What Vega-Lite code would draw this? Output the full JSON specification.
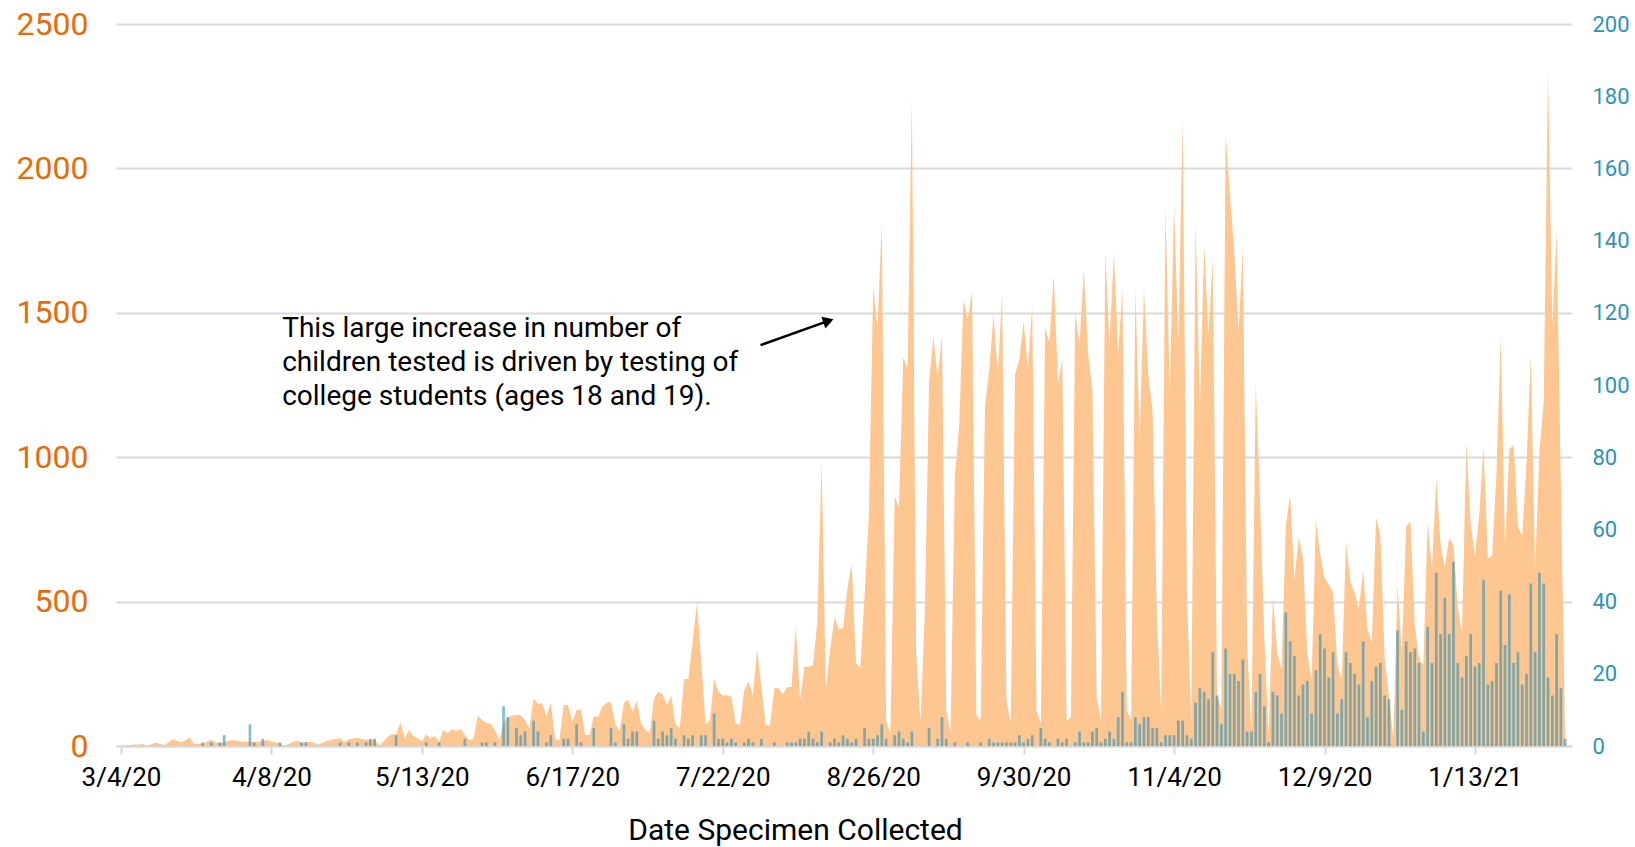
{
 "$schema": "https://vega.github.io/schema/vega-lite/v6.json",
 "width": 1456, "height": 722,
 "autosize": {"type": "none"},
 "padding": {"left": 116, "top": 24, "right": 63, "bottom": 101},
 "datasets": {"daily": [
{"date":"2020-03-04","tested":0,"positive":0},{"date":"2020-03-05","tested":2,"positive":0},{"date":"2020-03-06","tested":3,"positive":0},{"date":"2020-03-07","tested":5,"positive":0},{"date":"2020-03-08","tested":5,"positive":0},{"date":"2020-03-09","tested":7,"positive":0},{"date":"2020-03-10","tested":1,"positive":0},{"date":"2020-03-11","tested":5,"positive":0},{"date":"2020-03-12","tested":12,"positive":0},{"date":"2020-03-13","tested":8,"positive":0},{"date":"2020-03-14","tested":3,"positive":0},{"date":"2020-03-15","tested":12,"positive":0},{"date":"2020-03-16","tested":24,"positive":0},{"date":"2020-03-17","tested":18,"positive":0},{"date":"2020-03-18","tested":13,"positive":0},{"date":"2020-03-19","tested":20,"positive":0},{"date":"2020-03-20","tested":29,"positive":0},{"date":"2020-03-21","tested":7,"positive":0},{"date":"2020-03-22","tested":8,"positive":0},{"date":"2020-03-23","tested":9,"positive":1},{"date":"2020-03-24","tested":15,"positive":0},{"date":"2020-03-25","tested":22,"positive":1},{"date":"2020-03-26","tested":13,"positive":0},{"date":"2020-03-27","tested":10,"positive":1},{"date":"2020-03-28","tested":13,"positive":3},{"date":"2020-03-29","tested":17,"positive":0},{"date":"2020-03-30","tested":21,"positive":0},{"date":"2020-03-31","tested":18,"positive":0},
{"date":"2020-04-01","tested":16,"positive":0},{"date":"2020-04-02","tested":15,"positive":0},{"date":"2020-04-03","tested":15,"positive":6},{"date":"2020-04-04","tested":15,"positive":1},{"date":"2020-04-05","tested":15,"positive":0},{"date":"2020-04-06","tested":18,"positive":2},{"date":"2020-04-07","tested":22,"positive":0},{"date":"2020-04-08","tested":16,"positive":0},{"date":"2020-04-09","tested":12,"positive":0},{"date":"2020-04-10","tested":9,"positive":1},{"date":"2020-04-11","tested":0,"positive":0},{"date":"2020-04-12","tested":7,"positive":0},{"date":"2020-04-13","tested":14,"positive":0},{"date":"2020-04-14","tested":20,"positive":0},{"date":"2020-04-15","tested":12,"positive":1},{"date":"2020-04-16","tested":14,"positive":1},{"date":"2020-04-17","tested":16,"positive":0},{"date":"2020-04-18","tested":10,"positive":0},{"date":"2020-04-19","tested":5,"positive":0},{"date":"2020-04-20","tested":12,"positive":0},{"date":"2020-04-21","tested":18,"positive":0},{"date":"2020-04-22","tested":22,"positive":0},{"date":"2020-04-23","tested":24,"positive":0},{"date":"2020-04-24","tested":28,"positive":1},{"date":"2020-04-25","tested":12,"positive":0},{"date":"2020-04-26","tested":23,"positive":1},{"date":"2020-04-27","tested":26,"positive":0},{"date":"2020-04-28","tested":29,"positive":1},{"date":"2020-04-29","tested":24,"positive":0},{"date":"2020-04-30","tested":22,"positive":1},
{"date":"2020-05-01","tested":21,"positive":2},{"date":"2020-05-02","tested":23,"positive":2},{"date":"2020-05-03","tested":3,"positive":0},{"date":"2020-05-04","tested":15,"positive":0},{"date":"2020-05-05","tested":30,"positive":0},{"date":"2020-05-06","tested":42,"positive":0},{"date":"2020-05-07","tested":39,"positive":3},{"date":"2020-05-08","tested":82,"positive":0},{"date":"2020-05-09","tested":25,"positive":0},{"date":"2020-05-10","tested":55,"positive":0},{"date":"2020-05-11","tested":35,"positive":0},{"date":"2020-05-12","tested":27,"positive":0},{"date":"2020-05-13","tested":15,"positive":0},{"date":"2020-05-14","tested":40,"positive":1},{"date":"2020-05-15","tested":27,"positive":0},{"date":"2020-05-16","tested":35,"positive":0},{"date":"2020-05-17","tested":15,"positive":1},{"date":"2020-05-18","tested":55,"positive":0},{"date":"2020-05-19","tested":44,"positive":0},{"date":"2020-05-20","tested":58,"positive":0},{"date":"2020-05-21","tested":52,"positive":0},{"date":"2020-05-22","tested":58,"positive":0},{"date":"2020-05-23","tested":38,"positive":2},{"date":"2020-05-24","tested":21,"positive":0},{"date":"2020-05-25","tested":24,"positive":0},{"date":"2020-05-26","tested":105,"positive":0},{"date":"2020-05-27","tested":90,"positive":1},{"date":"2020-05-28","tested":80,"positive":1},{"date":"2020-05-29","tested":78,"positive":0},{"date":"2020-05-30","tested":55,"positive":1},{"date":"2020-05-31","tested":21,"positive":0},
{"date":"2020-06-01","tested":78,"positive":11},{"date":"2020-06-02","tested":100,"positive":8},{"date":"2020-06-03","tested":105,"positive":0},{"date":"2020-06-04","tested":107,"positive":5},{"date":"2020-06-05","tested":107,"positive":3},{"date":"2020-06-06","tested":90,"positive":4},{"date":"2020-06-07","tested":61,"positive":0},{"date":"2020-06-08","tested":165,"positive":7},{"date":"2020-06-09","tested":145,"positive":4},{"date":"2020-06-10","tested":148,"positive":0},{"date":"2020-06-11","tested":104,"positive":1},{"date":"2020-06-12","tested":151,"positive":3},{"date":"2020-06-13","tested":23,"positive":0},{"date":"2020-06-14","tested":21,"positive":0},{"date":"2020-06-15","tested":142,"positive":2},{"date":"2020-06-16","tested":142,"positive":2},{"date":"2020-06-17","tested":84,"positive":0},{"date":"2020-06-18","tested":125,"positive":6},{"date":"2020-06-19","tested":127,"positive":1},{"date":"2020-06-20","tested":38,"positive":0},{"date":"2020-06-21","tested":38,"positive":0},{"date":"2020-06-22","tested":104,"positive":5},{"date":"2020-06-23","tested":100,"positive":0},{"date":"2020-06-24","tested":136,"positive":0},{"date":"2020-06-25","tested":150,"positive":0},{"date":"2020-06-26","tested":152,"positive":5},{"date":"2020-06-27","tested":78,"positive":1},{"date":"2020-06-28","tested":50,"positive":0},{"date":"2020-06-29","tested":150,"positive":6},{"date":"2020-06-30","tested":161,"positive":2},
{"date":"2020-07-01","tested":119,"positive":4},{"date":"2020-07-02","tested":157,"positive":4},{"date":"2020-07-03","tested":78,"positive":0},{"date":"2020-07-04","tested":55,"positive":0},{"date":"2020-07-05","tested":44,"positive":0},{"date":"2020-07-06","tested":165,"positive":7},{"date":"2020-07-07","tested":188,"positive":2},{"date":"2020-07-08","tested":180,"positive":4},{"date":"2020-07-09","tested":142,"positive":3},{"date":"2020-07-10","tested":174,"positive":5},{"date":"2020-07-11","tested":76,"positive":2},{"date":"2020-07-12","tested":61,"positive":0},{"date":"2020-07-13","tested":232,"positive":3},{"date":"2020-07-14","tested":232,"positive":2},{"date":"2020-07-15","tested":364,"positive":3},{"date":"2020-07-16","tested":496,"positive":0},{"date":"2020-07-17","tested":290,"positive":3},{"date":"2020-07-18","tested":76,"positive":3},{"date":"2020-07-19","tested":88,"positive":0},{"date":"2020-07-20","tested":234,"positive":9},{"date":"2020-07-21","tested":188,"positive":2},{"date":"2020-07-22","tested":174,"positive":2},{"date":"2020-07-23","tested":176,"positive":1},{"date":"2020-07-24","tested":171,"positive":2},{"date":"2020-07-25","tested":78,"positive":1},{"date":"2020-07-26","tested":73,"positive":0},{"date":"2020-07-27","tested":194,"positive":1},{"date":"2020-07-28","tested":223,"positive":2},{"date":"2020-07-29","tested":174,"positive":1},{"date":"2020-07-30","tested":335,"positive":0},{"date":"2020-07-31","tested":205,"positive":2},
{"date":"2020-08-01","tested":74,"positive":0},{"date":"2020-08-02","tested":71,"positive":0},{"date":"2020-08-03","tested":200,"positive":1},{"date":"2020-08-04","tested":200,"positive":0},{"date":"2020-08-05","tested":179,"positive":0},{"date":"2020-08-06","tested":204,"positive":1},{"date":"2020-08-07","tested":204,"positive":1},{"date":"2020-08-08","tested":415,"positive":1},{"date":"2020-08-09","tested":160,"positive":2},{"date":"2020-08-10","tested":274,"positive":2},{"date":"2020-08-11","tested":274,"positive":4},{"date":"2020-08-12","tested":279,"positive":2},{"date":"2020-08-13","tested":434,"positive":1},{"date":"2020-08-14","tested":982,"positive":4},{"date":"2020-08-15","tested":197,"positive":0},{"date":"2020-08-16","tested":338,"positive":1},{"date":"2020-08-17","tested":444,"positive":2},{"date":"2020-08-18","tested":404,"positive":1},{"date":"2020-08-19","tested":409,"positive":3},{"date":"2020-08-20","tested":545,"positive":2},{"date":"2020-08-21","tested":630,"positive":1},{"date":"2020-08-22","tested":286,"positive":2},{"date":"2020-08-23","tested":271,"positive":0},{"date":"2020-08-24","tested":520,"positive":5},{"date":"2020-08-25","tested":800,"positive":2},{"date":"2020-08-26","tested":1590,"positive":2},{"date":"2020-08-27","tested":1449,"positive":3},{"date":"2020-08-28","tested":1812,"positive":6},{"date":"2020-08-29","tested":90,"positive":2},{"date":"2020-08-30","tested":40,"positive":0},{"date":"2020-08-31","tested":864,"positive":3},
{"date":"2020-09-01","tested":827,"positive":4},{"date":"2020-09-02","tested":1345,"positive":2},{"date":"2020-09-03","tested":1308,"positive":1},{"date":"2020-09-04","tested":2241,"positive":4},{"date":"2020-09-05","tested":323,"positive":0},{"date":"2020-09-06","tested":86,"positive":0},{"date":"2020-09-07","tested":456,"positive":0},{"date":"2020-09-08","tested":1256,"positive":5},{"date":"2020-09-09","tested":1419,"positive":0},{"date":"2020-09-10","tested":1279,"positive":2},{"date":"2020-09-11","tested":1422,"positive":8},{"date":"2020-09-12","tested":123,"positive":2},{"date":"2020-09-13","tested":49,"positive":0},{"date":"2020-09-14","tested":930,"positive":1},{"date":"2020-09-15","tested":1108,"positive":0},{"date":"2020-09-16","tested":1545,"positive":0},{"date":"2020-09-17","tested":1478,"positive":1},{"date":"2020-09-18","tested":1575,"positive":0},{"date":"2020-09-19","tested":108,"positive":0},{"date":"2020-09-20","tested":86,"positive":1},{"date":"2020-09-21","tested":1175,"positive":0},{"date":"2020-09-22","tested":1301,"positive":2},{"date":"2020-09-23","tested":1493,"positive":1},{"date":"2020-09-24","tested":1286,"positive":1},{"date":"2020-09-25","tested":1567,"positive":1},{"date":"2020-09-26","tested":160,"positive":1},{"date":"2020-09-27","tested":79,"positive":1},{"date":"2020-09-28","tested":1286,"positive":1},{"date":"2020-09-29","tested":1338,"positive":3},{"date":"2020-09-30","tested":1471,"positive":1},
{"date":"2020-10-01","tested":1308,"positive":2},{"date":"2020-10-02","tested":1523,"positive":3},{"date":"2020-10-03","tested":123,"positive":0},{"date":"2020-10-04","tested":79,"positive":5},{"date":"2020-10-05","tested":1449,"positive":2},{"date":"2020-10-06","tested":1397,"positive":1},{"date":"2020-10-07","tested":1630,"positive":0},{"date":"2020-10-08","tested":1256,"positive":2},{"date":"2020-10-09","tested":1338,"positive":1},{"date":"2020-10-10","tested":86,"positive":2},{"date":"2020-10-11","tested":101,"positive":0},{"date":"2020-10-12","tested":1501,"positive":1},{"date":"2020-10-13","tested":1390,"positive":4},{"date":"2020-10-14","tested":1649,"positive":1},{"date":"2020-10-15","tested":1360,"positive":1},{"date":"2020-10-16","tested":1234,"positive":4},{"date":"2020-10-17","tested":167,"positive":5},{"date":"2020-10-18","tested":93,"positive":1},{"date":"2020-10-19","tested":1708,"positive":2},{"date":"2020-10-20","tested":1390,"positive":4},{"date":"2020-10-21","tested":1708,"positive":2},{"date":"2020-10-22","tested":1360,"positive":8},{"date":"2020-10-23","tested":1582,"positive":15},{"date":"2020-10-24","tested":123,"positive":1},{"date":"2020-10-25","tested":93,"positive":1},{"date":"2020-10-26","tested":1582,"positive":8},{"date":"2020-10-27","tested":1056,"positive":6},{"date":"2020-10-28","tested":1582,"positive":8},{"date":"2020-10-29","tested":1286,"positive":8},{"date":"2020-10-30","tested":1160,"positive":5},{"date":"2020-10-31","tested":450,"positive":5},
{"date":"2020-11-01","tested":120,"positive":1},{"date":"2020-11-02","tested":1871,"positive":3},{"date":"2020-11-03","tested":1219,"positive":3},{"date":"2020-11-04","tested":1871,"positive":3},{"date":"2020-11-05","tested":1397,"positive":7},{"date":"2020-11-06","tested":2175,"positive":7},{"date":"2020-11-07","tested":530,"positive":3},{"date":"2020-11-08","tested":86,"positive":2},{"date":"2020-11-09","tested":1819,"positive":12},{"date":"2020-11-10","tested":1167,"positive":16},{"date":"2020-11-11","tested":1738,"positive":15},{"date":"2020-11-12","tested":1427,"positive":13},{"date":"2020-11-13","tested":1686,"positive":26},{"date":"2020-11-14","tested":175,"positive":14},{"date":"2020-11-15","tested":130,"positive":6},{"date":"2020-11-16","tested":2116,"positive":27},{"date":"2020-11-17","tested":1908,"positive":20},{"date":"2020-11-18","tested":1716,"positive":20},{"date":"2020-11-19","tested":1434,"positive":18},{"date":"2020-11-20","tested":1723,"positive":24},{"date":"2020-11-21","tested":350,"positive":4},{"date":"2020-11-22","tested":50,"positive":4},{"date":"2020-11-23","tested":1256,"positive":15},{"date":"2020-11-24","tested":850,"positive":20},{"date":"2020-11-25","tested":367,"positive":11},{"date":"2020-11-26","tested":41,"positive":1},{"date":"2020-11-27","tested":516,"positive":15},{"date":"2020-11-28","tested":323,"positive":14},{"date":"2020-11-29","tested":264,"positive":9},{"date":"2020-11-30","tested":760,"positive":37},
{"date":"2020-12-01","tested":871,"positive":29},{"date":"2020-12-02","tested":575,"positive":25},{"date":"2020-12-03","tested":723,"positive":14},{"date":"2020-12-04","tested":649,"positive":17},{"date":"2020-12-05","tested":323,"positive":18},{"date":"2020-12-06","tested":227,"positive":9},{"date":"2020-12-07","tested":782,"positive":21},{"date":"2020-12-08","tested":664,"positive":31},{"date":"2020-12-09","tested":582,"positive":27},{"date":"2020-12-10","tested":560,"positive":19},{"date":"2020-12-11","tested":530,"positive":26},{"date":"2020-12-12","tested":280,"positive":9},{"date":"2020-12-13","tested":232,"positive":13},{"date":"2020-12-14","tested":705,"positive":26},{"date":"2020-12-15","tested":571,"positive":23},{"date":"2020-12-16","tested":531,"positive":20},{"date":"2020-12-17","tested":476,"positive":17},{"date":"2020-12-18","tested":610,"positive":29},{"date":"2020-12-19","tested":405,"positive":8},{"date":"2020-12-20","tested":358,"positive":18},{"date":"2020-12-21","tested":791,"positive":22},{"date":"2020-12-22","tested":728,"positive":23},{"date":"2020-12-23","tested":303,"positive":14},{"date":"2020-12-24","tested":169,"positive":13},{"date":"2020-12-25","tested":28,"positive":0},{"date":"2020-12-26","tested":555,"positive":32},{"date":"2020-12-27","tested":327,"positive":10},{"date":"2020-12-28","tested":760,"positive":29},{"date":"2020-12-29","tested":776,"positive":26},{"date":"2020-12-30","tested":421,"positive":27},{"date":"2020-12-31","tested":303,"positive":23},
{"date":"2021-01-01","tested":280,"positive":4},{"date":"2021-01-02","tested":776,"positive":33},{"date":"2021-01-03","tested":610,"positive":23},{"date":"2021-01-04","tested":925,"positive":48},{"date":"2021-01-05","tested":697,"positive":31},{"date":"2021-01-06","tested":618,"positive":41},{"date":"2021-01-07","tested":720,"positive":31},{"date":"2021-01-08","tested":697,"positive":51},{"date":"2021-01-09","tested":484,"positive":23},{"date":"2021-01-10","tested":390,"positive":19},{"date":"2021-01-11","tested":1051,"positive":25},{"date":"2021-01-12","tested":768,"positive":31},{"date":"2021-01-13","tested":658,"positive":22},{"date":"2021-01-14","tested":799,"positive":23},{"date":"2021-01-15","tested":1035,"positive":46},{"date":"2021-01-16","tested":650,"positive":17},{"date":"2021-01-17","tested":658,"positive":18},{"date":"2021-01-18","tested":941,"positive":23},{"date":"2021-01-19","tested":1421,"positive":43},{"date":"2021-01-20","tested":681,"positive":28},{"date":"2021-01-21","tested":1027,"positive":42},{"date":"2021-01-22","tested":1043,"positive":23},{"date":"2021-01-23","tested":760,"positive":26},{"date":"2021-01-24","tested":728,"positive":17},{"date":"2021-01-25","tested":980,"positive":20},{"date":"2021-01-26","tested":1355,"positive":45},{"date":"2021-01-27","tested":610,"positive":26},{"date":"2021-01-28","tested":1019,"positive":48},{"date":"2021-01-29","tested":1193,"positive":45},{"date":"2021-01-30","tested":2335,"positive":19},{"date":"2021-01-31","tested":1453,"positive":14},
{"date":"2021-02-01","tested":1783,"positive":31},{"date":"2021-02-02","tested":900,"positive":16},{"date":"2021-02-03","tested":5,"positive":2}
 ]},
 "layer": [
  {"layer": [
   {"data": {"name": "daily"},
    "mark": {"type": "area", "color": "#fec791", "interpolate": "linear"},
    "encoding": {
     "x": {"field": "date", "type": "temporal",
       "scale": {"type": "utc", "domain": [{"year": 2020, "month": 3, "date": 4, "utc": true}, {"year": 2021, "month": 2, "date": 3, "hours": 10, "utc": true}]},
       "axis": {
        "values": [{"year":2020,"month":3,"date":4,"utc":true},{"year":2020,"month":4,"date":8,"utc":true},{"year":2020,"month":5,"date":13,"utc":true},{"year":2020,"month":6,"date":17,"utc":true},{"year":2020,"month":7,"date":22,"utc":true},{"year":2020,"month":8,"date":26,"utc":true},{"year":2020,"month":9,"date":30,"utc":true},{"year":2020,"month":11,"date":4,"utc":true},{"year":2020,"month":12,"date":9,"utc":true},{"year":2021,"month":1,"date":13,"utc":true}],
        "labelExpr": "utcFormat(datum.value, '%-m/%-d/%y')",
        "labelFontSize": 26, "labelColor": "#000000", "labelPadding": 10, "labelOverlap": false, "labelFlush": false,
        "domainColor": "#d9d9d9", "domainWidth": 2, "tickColor": "#d9d9d9", "tickWidth": 2, "tickSize": 8,
        "grid": false,
        "title": "Date Specimen Collected", "titleFontSize": 30, "titleFontWeight": "normal", "titleColor": "#000000",
        "titleX": 679, "titleY": 84, "titleAlign": "center", "titleBaseline": "middle"
       }},
     "y": {"field": "tested", "type": "quantitative",
       "scale": {"domain": [0, 2500], "nice": false},
       "axis": {"orient": "left", "values": [0, 500, 1000, 1500, 2000, 2500], "format": "d", "title": null, "domain": false, "ticks": false,
        "labelFontSize": 32, "labelColor": "#e46c0a", "labelPadding": 28, "grid": true, "gridColor": "#d9d9d9", "gridWidth": 2}}
    }},
   {"data": {"values": [{}]},
    "mark": {"type": "text", "text": ["This large increase in number of", "children tested is driven by testing of", "college students (ages 18 and 19)."],
      "align": "left", "baseline": "alphabetic", "fontSize": 28, "lineHeight": 34, "color": "#000000"},
    "encoding": {
     "x": {"datum": {"year": 2020, "month": 4, "date": 10, "hours": 12, "utc": true}, "type": "temporal"},
     "y": {"datum": 1415, "type": "quantitative"}
    }},
   {"data": {"values": [{}]},
    "mark": {"type": "rule", "color": "#000000", "strokeWidth": 2.5},
    "encoding": {
     "x": {"datum": {"year": 2020, "month": 7, "date": 30, "hours": 19, "utc": true}, "type": "temporal"},
     "x2": {"datum": {"year": 2020, "month": 8, "date": 15, "hours": 14, "utc": true}},
     "y": {"datum": 1388, "type": "quantitative"},
     "y2": {"datum": 1472}
    }},
   {"data": {"values": [{}]},
    "mark": {"type": "point", "shape": "triangle-right", "filled": true, "color": "#000000", "opacity": 1, "size": 150, "angle": -19},
    "encoding": {
     "x": {"datum": {"year": 2020, "month": 8, "date": 15, "hours": 14, "utc": true}, "type": "temporal"},
     "y": {"datum": 1472, "type": "quantitative"}
    }}
  ]},
  {"data": {"name": "daily"},
   "mark": {"type": "bar", "color": "#2e8fb5", "opacity": 0.6, "size": 2.7},
   "encoding": {
    "x": {"field": "date", "type": "temporal"},
    "y": {"field": "positive", "type": "quantitative",
      "scale": {"domain": [0, 200], "nice": false},
      "axis": {"orient": "right", "values": [0, 20, 40, 60, 80, 100, 120, 140, 160, 180, 200], "title": null, "domain": false, "ticks": false, "grid": false,
       "labelFontSize": 22, "labelColor": "#2f93b3", "labelPadding": 20}}
   }}
 ],
 "resolve": {"scale": {"y": "independent"}, "axis": {"y": "independent"}},
 "config": {"view": {"stroke": null}, "font": "Roboto", "axis": {"labelFont": "Roboto", "titleFont": "Roboto"}}
}
